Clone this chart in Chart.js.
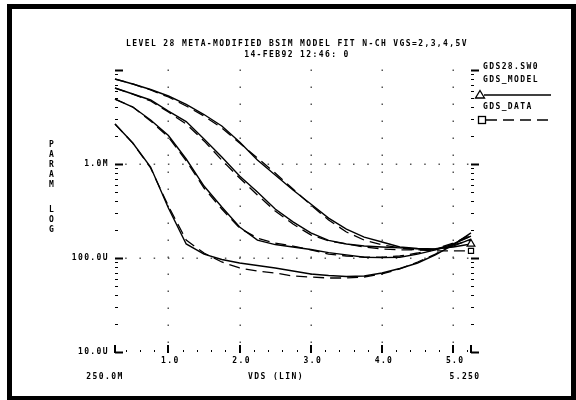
<!DOCTYPE html>
<html>
<head>
<meta charset="utf-8">
<script src="https://cdn.jsdelivr.net/npm/chart.js@4.4.1/dist/chart.umd.min.js"></script>
<style>
  html, body { margin: 0; padding: 0; background: #fff; }
</style>
</head>
<body>
<canvas id="chart" width="576" height="400"></canvas>
<script>
// drain voltage sweep (V)
const vds = [0.25, 0.5, 0.75, 1.0, 1.25, 1.5, 1.75, 2.0, 2.25, 2.5, 2.75,
             3.0, 3.25, 3.5, 3.75, 4.0, 4.25, 4.5, 4.75, 5.0, 5.25];

// output conductance, level 28 model (S)
const gdsModel2 = [2.66e-3, 1.67e-3, 9.29e-4, 3.40e-4, 1.41e-4, 1.10e-4, 9.64e-5, 8.85e-5, 8.32e-5, 7.83e-5, 7.27e-5,
                   6.76e-5, 6.51e-5, 6.36e-5, 6.43e-5, 6.92e-5, 7.73e-5, 8.85e-5, 1.08e-4, 1.38e-4, 1.85e-4];
const gdsModel3 = [4.91e-3, 4.04e-3, 2.94e-3, 2.01e-3, 1.13e-3, 5.83e-4, 3.49e-4, 2.14e-4, 1.55e-4, 1.39e-4, 1.31e-4,
                   1.23e-4, 1.14e-4, 1.08e-4, 1.02e-4, 1.01e-4, 1.02e-4, 1.10e-4, 1.22e-4, 1.41e-4, 1.71e-4];
const gdsModel4 = [6.43e-3, 5.55e-3, 4.80e-3, 3.66e-3, 2.83e-3, 1.85e-3, 1.19e-3, 7.45e-4, 5.04e-4, 3.32e-4, 2.42e-4,
                   1.85e-4, 1.54e-4, 1.41e-4, 1.34e-4, 1.31e-4, 1.28e-4, 1.25e-4, 1.23e-4, 1.34e-4, 1.59e-4];
const gdsModel5 = [8.02e-3, 7.10e-3, 6.20e-3, 5.29e-3, 4.30e-3, 3.36e-3, 2.54e-3, 1.71e-3, 1.10e-3, 7.64e-4, 5.29e-4,
                   3.75e-4, 2.66e-4, 2.03e-4, 1.67e-4, 1.48e-4, 1.31e-4, 1.26e-4, 1.25e-4, 1.31e-4, 1.41e-4];

// measured output conductance (S)
const gdsData2 = [2.66e-3, 1.67e-3, 9.07e-4, 3.57e-4, 1.55e-4, 1.13e-4, 9.07e-5, 7.83e-5, 7.27e-5, 6.92e-5, 6.43e-5,
                  6.28e-5, 6.13e-5, 6.13e-5, 6.28e-5, 6.76e-5, 7.64e-5, 9.07e-5, 1.10e-4, 1.41e-4, 1.80e-4];
const gdsData3 = [4.91e-3, 4.04e-3, 2.87e-3, 1.94e-3, 1.08e-3, 5.55e-4, 3.32e-4, 2.08e-4, 1.63e-4, 1.44e-4, 1.34e-4,
                  1.22e-4, 1.10e-4, 1.05e-4, 1.02e-4, 1.02e-4, 1.05e-4, 1.13e-4, 1.25e-4, 1.44e-4, 1.71e-4];
const gdsData4 = [6.43e-3, 5.55e-3, 4.68e-3, 3.57e-3, 2.66e-3, 1.76e-3, 1.10e-3, 7.10e-4, 4.68e-4, 3.16e-4, 2.30e-4,
                  1.76e-4, 1.52e-4, 1.41e-4, 1.31e-4, 1.25e-4, 1.22e-4, 1.22e-4, 1.25e-4, 1.38e-4, 1.55e-4];
const gdsData5 = [8.02e-3, 7.10e-3, 6.13e-3, 5.16e-3, 4.14e-3, 3.24e-3, 2.42e-3, 1.67e-3, 1.16e-3, 8.02e-4, 5.42e-4,
                  3.66e-4, 2.54e-4, 1.89e-4, 1.55e-4, 1.38e-4, 1.28e-4, 1.22e-4, 1.19e-4, 1.19e-4, 1.19e-4];

const xTickValues = [1, 2, 3, 4, 5];
const xTickLabels = ['1.0', '2.0', '3.0', '4.0', '5.0'];
const yTickValues = [1e-5, 1e-4, 1e-3];
const yTickLabels = ['10.0U', '100.0U', '1.0M'];

const titleLines = ['LEVEL 28 META-MODIFIED BSIM MODEL FIT N-CH VGS=2,3,4,5V', '14-FEB92 12:46: 0'];

const FONT = 'bold 8px "DejaVu Sans Mono"';
const DASH = [11, 6];

function pts(ys) {
  return vds.map((v, i) => ({ x: v, y: ys[i] }));
}

// only the last point of the VGS=5 curves carries a marker
function endMarker(r) {
  return vds.map((v, i) => (i === vds.length - 1 ? r : 0));
}

function modelSet(ys, marker) {
  return {
    data: pts(ys), borderColor: '#000', borderWidth: 1.4,
    pointRadius: marker ? endMarker(4.5) : 0, pointStyle: 'triangle',
    pointBackgroundColor: '#fff', pointBorderColor: '#000', pointBorderWidth: 1.2,
    clip: false
  };
}

function dataSet(ys, marker) {
  return {
    data: pts(ys), borderColor: '#000', borderWidth: 1.3, borderDash: DASH,
    pointRadius: marker ? endMarker(3.6) : 0, pointStyle: 'rect',
    pointBackgroundColor: '#fff', pointBorderColor: '#000', pointBorderWidth: 1.2,
    clip: false
  };
}

function text(ctx, s, x, y, align) {
  ctx.textAlign = align || 'left';
  ctx.fillText(s, x, y);
}

const decor = {
  id: 'decor',
  beforeDatasetsDraw(chart) {
    const { ctx, chartArea: a, scales: { x, y } } = chart;
    ctx.save();
    ctx.fillStyle = '#555';

    // dotted verticals at each volt
    for (const v of xTickValues) {
      const px = Math.round(x.getPixelForValue(v));
      for (let py = a.top; py < a.bottom - 6; py += 17) ctx.fillRect(px - 0.5, py - 0.5, 1.5, 1.5);
    }
    // dotted horizontals at the inner decades
    for (const v of [1e-4, 1e-3]) {
      const py = Math.round(y.getPixelForValue(v));
      for (let t = 0.4; t < 5.25; t += 0.2) {
        const px = x.getPixelForValue(t);
        ctx.fillRect(px - 0.5, py - 0.5, 1.5, 1.5);
      }
    }

    ctx.strokeStyle = '#000';
    // log ticks on both sides
    for (let d = -5; d <= -2; d++) {
      for (let m = 1; m <= 9; m++) {
        const v = m * Math.pow(10, d);
        if (v > 1e-2 + 1e-12) break;
        const py = Math.round(y.getPixelForValue(v)) + 0.5;
        const major = m === 1;
        ctx.lineWidth = major ? 2 : 1;
        ctx.beginPath();
        ctx.moveTo(a.left, py); ctx.lineTo(a.left + (major ? 8 : 3), py);
        ctx.moveTo(a.right, py); ctx.lineTo(a.right + (major ? 8 : 3), py);
        ctx.stroke();
      }
    }
    // ticks along the bottom
    ctx.lineWidth = 1;
    for (let t = 0.4; t < 5.25; t += 0.2) {
      const px = Math.round(x.getPixelForValue(t)) + 0.5;
      ctx.beginPath(); ctx.moveTo(px, a.bottom); ctx.lineTo(px, a.bottom - 2); ctx.stroke();
    }
    ctx.lineWidth = 2;
    for (const v of [0.25, ...xTickValues, 5.25]) {
      const px = Math.round(x.getPixelForValue(v));
      ctx.beginPath(); ctx.moveTo(px, a.bottom + 1); ctx.lineTo(px, a.bottom - 7); ctx.stroke();
    }
    ctx.restore();
  },
  afterDraw(chart) {
    const { ctx, chartArea: a, scales: { x, y } } = chart;
    ctx.save();
    ctx.fillStyle = '#000';
    ctx.font = FONT;
    ctx.letterSpacing = '1.4px';
    ctx.textBaseline = 'middle';

    text(ctx, titleLines[0], 297, 44, 'center');
    text(ctx, titleLines[1], 297, 55, 'center');

    yTickValues.forEach((v, i) => text(ctx, yTickLabels[i], a.left - 6, y.getPixelForValue(v), 'right'));
    xTickValues.forEach((v, i) => text(ctx, xTickLabels[i], x.getPixelForValue(v) + 2, a.bottom + 9, 'center'));
    text(ctx, '250.0M', x.getPixelForValue(0.25) - 10, a.bottom + 25, 'center');
    text(ctx, '5.250', x.getPixelForValue(5.25) - 6, a.bottom + 25, 'center');
    text(ctx, 'VDS (LIN)', 276, a.bottom + 25, 'center');

    'PARAM'.split('').forEach((c, i) => text(ctx, c, 52, 145 + i * 10, 'center'));
    'LOG'.split('').forEach((c, i) => text(ctx, c, 52, 210 + i * 10, 'center'));

    // legend block
    const lx = 483;
    text(ctx, 'GDS28.SW0', lx, 67);
    text(ctx, 'GDS_MODEL', lx, 80);
    text(ctx, 'GDS_DATA', lx, 107);

    ctx.strokeStyle = '#000';
    ctx.lineWidth = 1.3;
    ctx.beginPath(); ctx.moveTo(484, 95); ctx.lineTo(551, 95); ctx.stroke();
    ctx.beginPath(); ctx.moveTo(480, 90.5); ctx.lineTo(484.5, 98); ctx.lineTo(475.5, 98); ctx.closePath();
    ctx.fillStyle = '#fff'; ctx.fill(); ctx.stroke();

    ctx.setLineDash(DASH);
    ctx.beginPath(); ctx.moveTo(486, 120); ctx.lineTo(552, 120); ctx.stroke();
    ctx.setLineDash([]);
    ctx.fillRect(478, 116.5, 7, 7); ctx.strokeRect(478.5, 116.5, 7, 7);

    // heavy outer frame
    ctx.lineWidth = 5;
    ctx.strokeRect(9.5, 6.5, 564, 392);
    ctx.restore();
  }
};

new Chart(document.getElementById('chart'), {
  type: 'line',
  data: {
    datasets: [
      modelSet(gdsModel2), modelSet(gdsModel3), modelSet(gdsModel4), modelSet(gdsModel5, true),
      dataSet(gdsData2), dataSet(gdsData3), dataSet(gdsData4), dataSet(gdsData5, true)
    ]
  },
  options: {
    responsive: false,
    animation: false,
    layout: { padding: { left: 115, right: 105, top: 70, bottom: 48 } },
    elements: { line: { tension: 0 } },
    scales: {
      x: { type: 'linear', min: 0.25, max: 5.25, display: false },
      y: { type: 'logarithmic', min: 1e-5, max: 1e-2, display: false }
    },
    plugins: { legend: { display: false }, title: { display: false }, tooltip: { enabled: false } }
  },
  plugins: [decor]
});
</script>
</body>
</html>
